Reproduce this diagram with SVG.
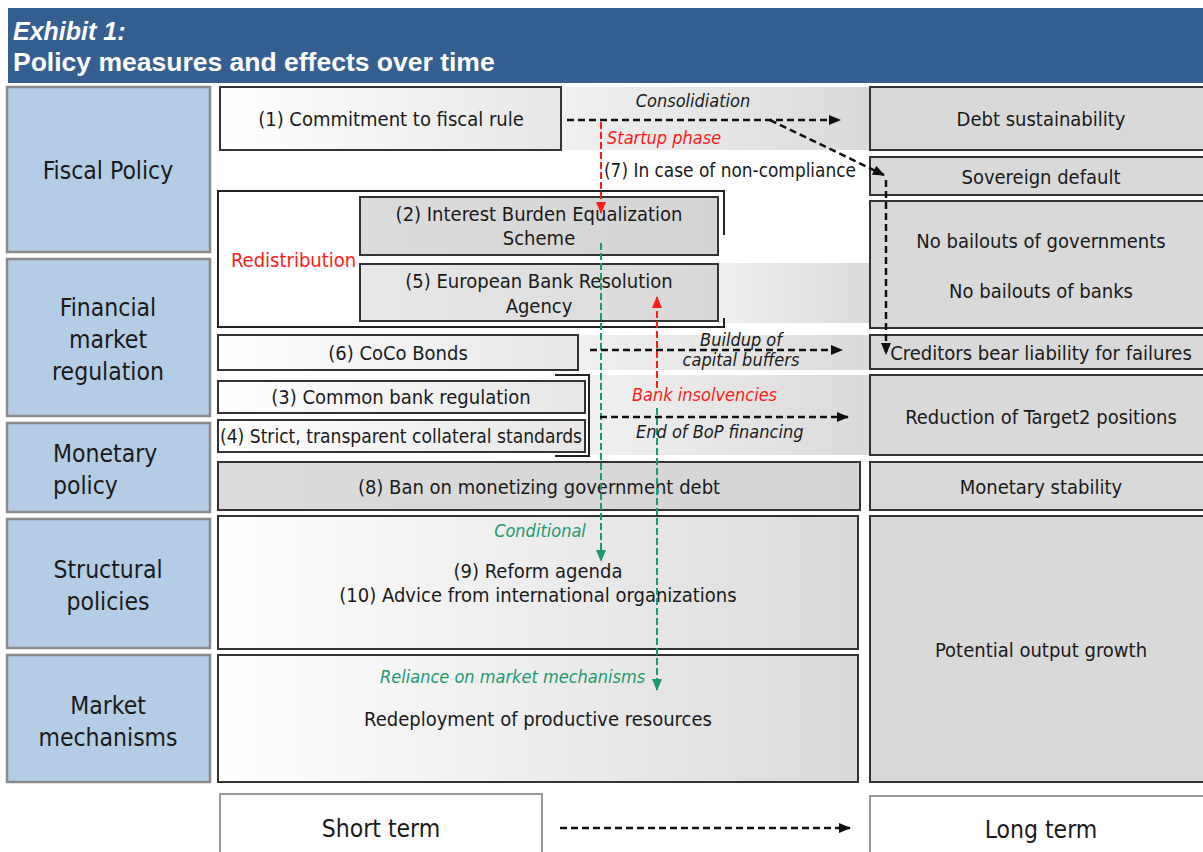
<svg xmlns="http://www.w3.org/2000/svg" width="1203" height="852" viewBox="0 0 1203 852">
<defs>
<style>
.t{font-family:"DejaVu Sans Condensed","DejaVu Sans",sans-serif;font-stretch:condensed;fill:#1a1a1a;font-size:20px}
.c{text-anchor:middle}
.lab{font-size:24.5px}
.it{font-style:italic;font-size:18px}
.red{fill:#ff1a1a}
.grn{fill:#1a9a70}
.cat{fill:#b4cde6;stroke:#8a8a8a;stroke-width:2.5}
.res{fill:#d9d9d9;stroke:#333;stroke-width:2}
.mid{stroke:#333;stroke-width:2}
.dk{fill:none;stroke:#111;stroke-width:2.5;stroke-dasharray:7 4}
.rd{fill:none;stroke:#ff1a1a;stroke-width:2;stroke-dasharray:7 3}
.gd{fill:none;stroke:#1a9a70;stroke-width:2;stroke-dasharray:7 3}
</style>
<linearGradient id="gw" x1="0" y1="0" x2="1" y2="0"><stop offset="0" stop-color="#ffffff"/><stop offset="1" stop-color="#dadada"/></linearGradient>
<linearGradient id="gw2" x1="0" y1="0" x2="1" y2="0"><stop offset="0" stop-color="#ffffff"/><stop offset="1" stop-color="#e6e6e6"/></linearGradient>
<linearGradient id="gg" x1="0" y1="0" x2="1" y2="0"><stop offset="0" stop-color="#dcdcdc"/><stop offset="1" stop-color="#d4d4d4"/></linearGradient>
<linearGradient id="gg2" x1="0" y1="0" x2="1" y2="0"><stop offset="0" stop-color="#e8e8e8"/><stop offset="1" stop-color="#d8d8d8"/></linearGradient>
<linearGradient id="band" x1="0" y1="0" x2="1" y2="0"><stop offset="0" stop-color="#f0f0f0"/><stop offset="1" stop-color="#dadada"/></linearGradient>
<marker id="ak" markerUnits="userSpaceOnUse" markerWidth="12" markerHeight="10" refX="11" refY="5" orient="auto"><path d="M0,0 L12,5 L0,10 z" fill="#111"/></marker>
<marker id="ar" markerUnits="userSpaceOnUse" markerWidth="12" markerHeight="10" refX="11" refY="5" orient="auto"><path d="M0,0 L12,5 L0,10 z" fill="#ff1a1a"/></marker>
<marker id="ag" markerUnits="userSpaceOnUse" markerWidth="12" markerHeight="10" refX="11" refY="5" orient="auto"><path d="M0,0 L12,5 L0,10 z" fill="#1a9a70"/></marker>
</defs>
<rect width="1203" height="852" fill="#ffffff"/>

<g id="header">
<rect x="8" y="8" width="1195" height="75" fill="#365f91"/>
<text x="13" y="40" font-family="Liberation Sans,Arial,sans-serif" font-weight="bold" font-style="italic" font-size="25" fill="#fff">Exhibit 1:</text>
<text x="13" y="71" font-family="Liberation Sans,Arial,sans-serif" font-weight="bold" font-size="26.5" fill="#fff">Policy measures and effects over time</text>
</g>

<g id="bands">
<rect x="561" y="87" width="309" height="63" fill="url(#band)"/>
<rect x="718" y="263" width="152" height="60" fill="url(#band)"/>
<rect x="579" y="335" width="291" height="35" fill="url(#band)"/>
<rect x="590" y="375" width="280" height="80" fill="url(#band)"/>
</g>

<g id="cat-fiscal"><rect class="cat" x="7" y="87" width="203" height="165"/><text class="t lab c" x="108" y="179">Fiscal Policy</text></g>
<g id="cat-financial"><rect class="cat" x="7" y="259" width="203" height="157"/><text class="t lab c" x="108" y="316">Financial</text><text class="t lab c" x="108" y="348">market</text><text class="t lab c" x="108" y="380">regulation</text></g>
<g id="cat-monetary"><rect class="cat" x="7" y="423" width="203" height="89"/><text class="t lab" x="53" y="462">Monetary</text><text class="t lab" x="53" y="494">policy</text></g>
<g id="cat-structural"><rect class="cat" x="7" y="519" width="203" height="129"/><text class="t lab c" x="108" y="578">Structural</text><text class="t lab c" x="108" y="610">policies</text></g>
<g id="cat-market"><rect class="cat" x="7" y="655" width="203" height="127"/><text class="t lab c" x="108" y="714">Market</text><text class="t lab c" x="108" y="746">mechanisms</text></g>

<g id="m1"><rect class="mid" x="220" y="87" width="341" height="63" fill="url(#gw2)"/><text class="t c" x="391" y="126">(1) Commitment to fiscal rule</text></g>

<g id="redistribution">
<path d="M724,235 V191 H218 V327 H724 V318" fill="none" stroke="#222" stroke-width="2"/>
<text class="t red" x="231" y="267" font-size="19">Redistribution</text>
</g>
<g id="m2"><rect class="mid" x="360" y="197" width="358" height="58" fill="url(#gg)"/><text class="t c" x="539" y="221">(2) Interest Burden Equalization</text><text class="t c" x="539" y="245">Scheme</text></g>
<g id="m5"><rect class="mid" x="360" y="264" width="358" height="57" fill="url(#gg2)"/><text class="t c" x="539" y="288">(5) European Bank Resolution</text><text class="t c" x="539" y="313">Agency</text></g>

<g id="m6"><rect class="mid" x="218" y="335" width="360" height="35" fill="url(#gw2)"/><text class="t c" x="398" y="360">(6) CoCo Bonds</text></g>
<g id="bracket34"><path d="M555,375 H589 V456 H555" fill="none" stroke="#222" stroke-width="2"/></g>
<g id="m3"><rect class="mid" x="218" y="381" width="367" height="32" fill="url(#gw2)"/><text class="t c" x="401" y="404">(3) Common bank regulation</text></g>
<g id="m4"><rect class="mid" x="218" y="420" width="367" height="32" fill="url(#gw2)"/><text class="t" x="220" y="443" font-size="19" textLength="362" lengthAdjust="spacingAndGlyphs">(4) Strict, transparent collateral standards</text></g>
<g id="m8"><rect class="mid" x="218" y="462" width="642" height="48" fill="url(#gg)"/><text class="t c" x="539" y="494">(8) Ban on monetizing government debt</text></g>
<g id="m9"><rect class="mid" x="218" y="516" width="640" height="133" fill="url(#gw)"/><text class="t c" x="538" y="578">(9) Reform agenda</text><text class="t c" x="538" y="602">(10) Advice from international organizations</text></g>
<g id="m11"><rect class="mid" x="218" y="655" width="640" height="127" fill="url(#gw)"/><text class="t c" x="538" y="726">Redeployment of productive resources</text></g>

<g id="r-debt"><rect class="res" x="870" y="87" width="340" height="63"/><text class="t c" x="1041" y="126">Debt sustainability</text></g>
<g id="r-sov"><rect class="res" x="870" y="157" width="340" height="38"/><text class="t c" x="1041" y="184">Sovereign default</text></g>
<g id="r-nobail"><rect class="res" x="870" y="201" width="340" height="127"/><text class="t c" x="1041" y="248">No bailouts of governments</text><text class="t c" x="1041" y="298">No bailouts of banks</text></g>
<g id="r-cred"><rect class="res" x="870" y="335" width="340" height="34"/><text class="t c" x="1041" y="360">Creditors bear liability for failures</text></g>
<g id="r-t2"><rect class="res" x="870" y="375" width="340" height="80"/><text class="t c" x="1041" y="424">Reduction of Target2 positions</text></g>
<g id="r-mon"><rect class="res" x="870" y="462" width="340" height="48"/><text class="t c" x="1041" y="494">Monetary stability</text></g>
<g id="r-pot"><rect class="res" x="870" y="516" width="340" height="266"/><text class="t c" x="1041" y="657">Potential output growth</text></g>

<g id="short"><rect x="220" y="794" width="322" height="70" fill="#fff" stroke="#999" stroke-width="2"/><text class="t lab c" x="381" y="837">Short term</text></g>
<g id="long"><rect x="870" y="796" width="340" height="70" fill="#fff" stroke="#999" stroke-width="2"/><text class="t lab c" x="1041" y="838">Long term</text></g>

<g id="connectors">
<path class="dk" d="M567,120 H840" marker-end="url(#ak)"/>
<path class="dk" d="M770,120 L884,175" marker-end="url(#ak)"/>
<path class="dk" d="M886,180 V354" stroke-width="2" marker-end="url(#ak)"/>
<path class="rd" d="M601,122 V213" marker-end="url(#ar)"/>
<path class="gd" d="M601,243 V561" marker-end="url(#ag)"/>
<path class="rd" d="M657,388 V297" marker-end="url(#ar)"/>
<path class="gd" d="M657,408 V690" marker-end="url(#ag)"/>
<path class="dk" d="M590,350 H842" marker-end="url(#ak)"/>
<path class="dk" d="M600,417 H848" marker-end="url(#ak)"/>
<path class="dk" d="M560,828 H850" stroke-width="3.5" stroke-dasharray="9 4" marker-end="url(#ak)"/>
<text class="t it c" x="693" y="107">Consolidiation</text>
<text class="t it red" x="607" y="144">Startup phase</text>
<text class="t" x="604" y="177" font-size="18.5" textLength="252" lengthAdjust="spacingAndGlyphs">(7) In case of non-compliance</text>
<text class="t it c" x="741" y="346">Buildup of</text>
<text class="t it c" x="741" y="366">capital buffers</text>
<text class="t it red" x="632" y="401">Bank insolvencies</text>
<text class="t it" x="636" y="438">End of BoP financing</text>
<text class="t it grn c" x="540" y="537">Conditional</text>
<text class="t it grn" x="380" y="683">Reliance on market mechanisms</text>
</g>
</svg>
